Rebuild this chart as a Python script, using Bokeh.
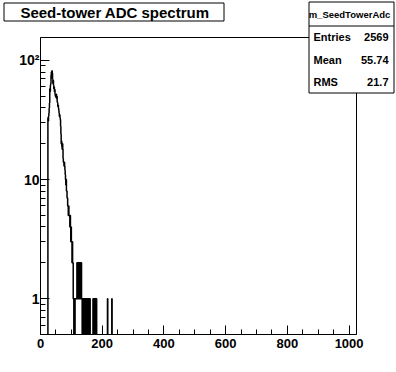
import numpy as np
from bokeh.plotting import figure
from bokeh.models import Range1d, FixedTicker, Label, Column, Row
from bokeh.embed import file_html
from bokeh.resources import INLINE

# ---------------- data ----------------
title_text = "Seed-tower ADC spectrum"
hist_name = "m_SeedTowerAdc"
stat_names = ["Entries", "Mean", "RMS"]
stat_values = ["2569", "55.74", "21.7"]

first_bin = 20          # ADC value of the first listed bin
bin_width = 1
counts = [
    0, 0, 0, 0, 33, 31, 34, 36, 40, 44,      # 20-29
    58, 55, 62, 64, 75, 80, 73, 82, 78, 70,  # 30-39
    64, 68, 62, 58, 60, 55, 57, 52, 50, 51,  # 40-49
    49, 52, 48, 50, 45, 44, 41, 42, 40, 38,  # 50-59
    36, 34, 35, 33, 32, 28, 24, 20, 21, 19,  # 60-69
    18, 20, 18, 15, 14, 14, 13, 14, 13, 12,  # 70-79
    11, 10, 9, 10, 8, 8, 7, 7, 6, 6,         # 80-89
    5, 6, 5, 5, 5, 4, 5, 4, 3, 4,            # 90-99
    3, 3, 2, 3, 2, 2, 1, 1, 0, 1,            # 100-109
    1, 0, 1, 1, 1, 1, 1, 1, 2, 1,            # 110-119
    2, 1, 2, 2, 1, 2, 1, 2, 2, 1,            # 120-129
    2, 1, 2, 1, 1, 0, 1, 1, 0, 1,            # 130-139
    1, 1, 1, 0, 1, 1, 1, 0, 1, 1,            # 140-149
    1, 0, 1, 1, 1, 0, 1, 1, 0, 1,            # 150-159
    1, 0, 0, 0, 0, 0, 0, 0, 0, 0,            # 160-169
    1, 1, 0, 1, 1, 1, 0, 1, 1, 0,            # 170-179
    1, 1, 0, 0, 0, 0, 0, 0, 0, 0,            # 180-189
    0, 0, 0, 0, 0, 0, 0, 0, 0, 0,            # 190-199
    0, 0, 0, 0, 0, 0, 0, 0, 0, 0,            # 200-209
    0, 0, 0, 0, 0, 0, 0, 1, 0, 0,            # 210-219
    0, 0, 0, 0, 0, 0, 0, 0, 0, 0,            # 220-229
    0, 1, 0, 0, 0, 0, 0, 0, 0, 0,            # 230-239
]

x_major = [0, 200, 400, 600, 800, 1000]
x_minor = [50, 100, 150, 250, 300, 350, 450, 500, 550, 650, 700, 750,
           850, 900, 950]
y_major = [1, 10, 100]
y_minor = [0.5, 0.6, 0.7, 0.8, 0.9, 2, 3, 4, 5, 6, 7, 8, 9,
           20, 30, 40, 50, 60, 70, 80, 90]
y_labels = {1: "1", 10: "10", 100: "10\u00b2"}

x_lo, x_hi = 0, 1024
y_lo, y_hi = 0.5, 156

# ---------------- histogram outline ----------------
floor = 0.05  # empty bins drop below the visible log range
edges = first_bin + bin_width * np.arange(len(counts) + 1)
c = np.array(counts, dtype=float)
c_plot = np.where(c > 0, c, floor)
xs = np.concatenate([[edges[0]], np.repeat(edges, 2)[1:-1], [edges[-1]]])
ys = np.concatenate([[floor], np.repeat(c_plot, 2), [floor]])

FONT = "Liberation Sans"
W, H = 396, 372

p = figure(width=W, height=H,
           x_range=Range1d(x_lo, x_hi), y_range=Range1d(y_lo, y_hi),
           y_axis_type="log", output_backend="svg", toolbar_location=None,
           min_border_left=40, min_border_right=40,
           min_border_top=37, min_border_bottom=38,
           background_fill_color="white", border_fill_color="white")
p.title.visible = False
p.xgrid.grid_line_color = None
p.ygrid.grid_line_color = None
p.outline_line_color = "black"
p.outline_line_width = 1
p.outline_line_alpha = 1.0

p.line(xs, ys, line_color="black", line_width=1.5)

for ax in (p.xaxis[0], p.yaxis[0]):
    ax.axis_line_color = "black"
    ax.major_tick_line_color = "black"
    ax.minor_tick_line_color = "black"
    ax.major_tick_out = 0
    ax.minor_tick_out = 0
    ax.major_tick_in = 9
    ax.minor_tick_in = 5
    ax.major_label_text_font = FONT
    ax.major_label_text_font_style = "bold"
    ax.major_label_text_color = "black"

p.xaxis[0].ticker = FixedTicker(ticks=x_major, minor_ticks=x_minor)
p.xaxis[0].major_label_standoff = 4
p.xaxis[0].major_label_text_font_size = "13px"
p.yaxis[0].ticker = FixedTicker(ticks=y_major, minor_ticks=y_minor)
p.yaxis[0].major_label_overrides = y_labels
p.yaxis[0].major_label_standoff = 1
p.yaxis[0].major_label_text_font_size = "14px"

# ---------------- transparent overlay for the title and stats boxes ----------------
ov = figure(frame_width=W, frame_height=H, title=None,
            x_range=Range1d(0, W), y_range=Range1d(H, 0),
            x_axis_location=None, y_axis_location=None,
            output_backend="svg", toolbar_location=None,
            min_border=0, min_border_left=0, min_border_right=0,
            min_border_top=0, min_border_bottom=0,
            background_fill_alpha=0.0, border_fill_alpha=0.0,
            outline_line_color=None)
ov.xgrid.visible = False
ov.ygrid.visible = False

# title box
ov.quad(left=[3.5], right=[223.5], top=[2.5], bottom=[20.5],
        fill_color="white", line_color="black", line_width=1)
ov.add_layout(Label(x=114.5, y=11.5, text=title_text, text_font=FONT,
                    text_font_style="bold", text_font_size="15px",
                    text_align="center", text_baseline="middle",
                    text_color="black"))

# stats box
ov.quad(left=[308.5], right=[393.5], top=[1.5], bottom=[92.5],
        fill_color="white", line_color="black", line_width=1)
ov.segment(x0=[308.5], x1=[393.5], y0=[25.5], y1=[25.5],
           line_color="black", line_width=1)
ov.add_layout(Label(x=349, y=13.5, text=hist_name, text_font=FONT,
                    text_font_style="bold", text_font_size="9.5px",
                    text_align="center", text_baseline="middle",
                    text_color="black"))
row_y = [36.5, 59, 81.5]
for name, val, ry in zip(stat_names, stat_values, row_y):
    ov.add_layout(Label(x=313, y=ry, text=name, text_font=FONT,
                        text_font_style="bold", text_font_size="11px",
                        text_align="left", text_baseline="middle",
                        text_color="black"))
    ov.add_layout(Label(x=388, y=ry, text=val, text_font=FONT,
                        text_font_style="bold", text_font_size="11px",
                        text_align="right", text_baseline="middle",
                        text_color="black"))

layout = Column(children=[Row(children=[p]),
                          Row(children=[ov], margin=(-H, 0, 0, 0))],
                spacing=0)

open("out.html", "w").write(file_html(layout, INLINE))
